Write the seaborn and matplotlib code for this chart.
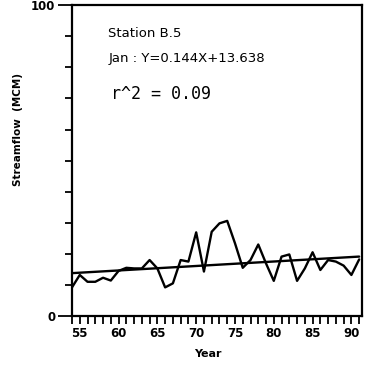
import numpy as np
import pandas as pd
import matplotlib
matplotlib.use('Agg')
import matplotlib.pyplot as plt
import seaborn as sns
from matplotlib.ticker import MultipleLocator

# Station B.5 January streamflow (MCM), 1954-1991
years = list(range(54, 92))
flow = [9.2, 13.2, 11.0, 11.0, 12.3, 11.4, 14.5, 15.5, 15.3, 15.3,
        18.0, 15.3, 9.2, 10.5, 18.0, 17.5, 26.9, 14.3, 27.1, 29.8,
        30.6, 23.4, 15.5, 18.0, 23.0, 16.9, 11.3, 19.1, 19.8, 11.3,
        15.3, 20.5, 14.8, 18.0, 17.5, 16.2, 13.2, 18.2]

# regression printed on the chart: Y = 0.144X + 13.638 (X = 1..38)
slope = 0.144
intercept = 13.638
r2 = 0.09

x_labels = ['55', '60', '65', '70', '75', '80', '85', '90']

df = pd.DataFrame({'Year': years, 'Flow': flow})
df['X'] = np.arange(1, len(df) + 1)
df['Trend'] = slope * df['X'] + intercept

sns.set_style('white')
plt.rcParams['font.family'] = ['DejaVu Sans']
plt.rcParams['text.color'] = 'black'
plt.rcParams['axes.labelcolor'] = 'black'
plt.rcParams['xtick.color'] = 'black'
plt.rcParams['ytick.color'] = 'black'

fig = plt.figure(figsize=(3.75, 3.70), dpi=100)
ax = fig.add_axes([0.192, 0.146, 0.773, 0.840])

sns.lineplot(data=df, x='Year', y='Flow', color='black', linewidth=1.7, ax=ax)
sns.lineplot(data=df, x='Year', y='Trend', color='black', linewidth=1.7, ax=ax)

ax.set_xlim(54, 91.35)
ax.set_ylim(0, 100)

ax.set_xticks([int(v) for v in x_labels])
ax.set_xticklabels(x_labels, fontsize=8.5, fontweight='bold')
ax.xaxis.set_minor_locator(MultipleLocator(1))
ax.set_yticks([0, 100])
ax.set_yticklabels(['0', '100'], fontsize=8.5, fontweight='bold')
ax.yaxis.set_minor_locator(MultipleLocator(10))

ax.tick_params(axis='x', which='both', direction='out', length=6, width=1.3,
               bottom=True, pad=2)
ax.tick_params(axis='y', which='major', direction='out', length=10, width=1.3,
               left=True, pad=2)
ax.tick_params(axis='y', which='minor', direction='out', length=5, width=1.3,
               left=True)

for sp in ax.spines.values():
    sp.set_linewidth(1.6)
    sp.set_color('black')

ax.set_xlabel('Year', fontsize=8, fontweight='bold', labelpad=-1)
ax.xaxis.set_label_coords(0.47, -0.105)
ax.set_ylabel('Streamflow  (MCM)', fontsize=7.5, fontweight='bold')
ax.yaxis.set_label_coords(-0.17, 0.6)

ax.text(0.125, 0.91, 'Station B.5', transform=ax.transAxes,
        fontsize=9.5, ha='left', va='center')
ax.text(0.125, 0.83, f'Jan : Y={slope}X+{intercept}', transform=ax.transAxes,
        fontsize=9.5, ha='left', va='center')
ax.text(0.135, 0.715, f'r^2 = {r2:.2f}', transform=ax.transAxes,
        fontsize=12, ha='left', va='center', family='DejaVu Sans Mono')

fig.savefig('out.png', dpi=100)
